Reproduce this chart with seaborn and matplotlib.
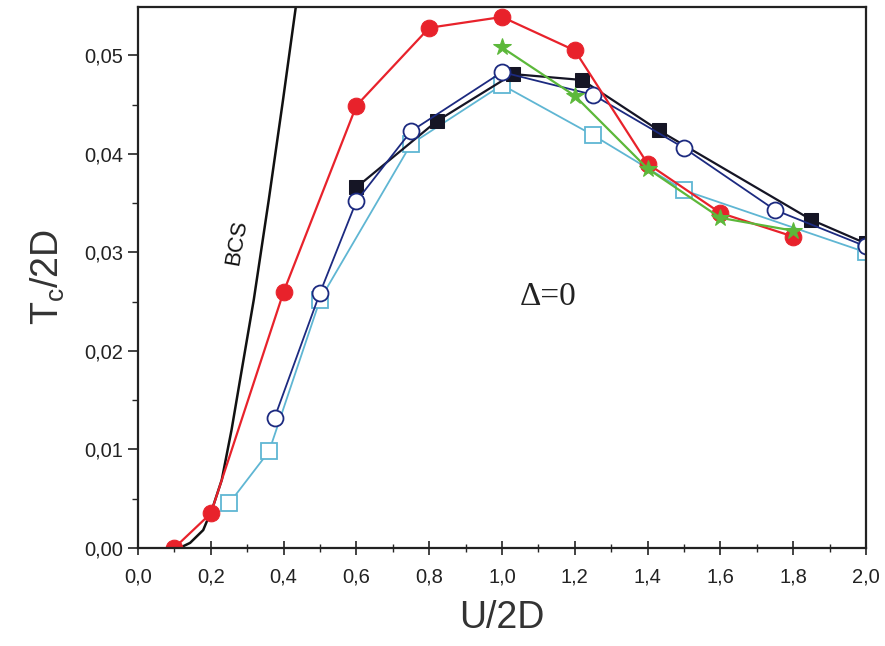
import matplotlib
matplotlib.use("Agg")
import matplotlib.pyplot as plt
import seaborn as sns
from matplotlib.ticker import MultipleLocator, FixedLocator

# ---- data ----
bcs_u = [0.10, 0.115, 0.143, 0.179, 0.206, 0.230, 0.257, 0.280, 0.318, 0.359, 0.398, 0.433, 0.437]
bcs_t = [0.0, 0.0, 0.0005, 0.0018, 0.0042, 0.0069, 0.0120, 0.0170, 0.0252, 0.0353, 0.0454, 0.0548, 0.0560]

red_u = [0.10, 0.20, 0.40, 0.60, 0.80, 1.00, 1.20, 1.40, 1.60, 1.80]
red_t = [0.0000, 0.0035, 0.0260, 0.0449, 0.0528, 0.0539, 0.0505, 0.0390, 0.0340, 0.0316]

green_u = [1.00, 1.20, 1.40, 1.60, 1.80]
green_t = [0.0508, 0.0459, 0.0385, 0.0335, 0.0322]

black_u = [0.60, 0.82, 1.03, 1.22, 1.43, 1.85, 2.00]
black_t = [0.0366, 0.0433, 0.0481, 0.0475, 0.0424, 0.0333, 0.0309]

circ_u = [0.375, 0.50, 0.60, 0.75, 1.00, 1.25, 1.50, 1.75, 2.00]
circ_t = [0.0132, 0.0259, 0.0352, 0.0423, 0.0483, 0.0460, 0.0406, 0.0343, 0.0306]

lblue_u = [0.25, 0.36, 0.50, 0.75, 1.00, 1.25, 1.50, 2.00]
lblue_t = [0.0045, 0.0098, 0.0252, 0.0410, 0.0470, 0.0419, 0.0363, 0.0300]

x_ticks = [0.0, 0.2, 0.4, 0.6, 0.8, 1.0, 1.2, 1.4, 1.6, 1.8, 2.0]
x_labels = ["0,0", "0,2", "0,4", "0,6", "0,8", "1,0", "1,2", "1,4", "1,6", "1,8", "2,0"]
y_ticks = [0.00, 0.01, 0.02, 0.03, 0.04, 0.05]
y_labels = ["0,00", "0,01", "0,02", "0,03", "0,04", "0,05"]

# ---- style ----
sns.set_style("ticks")
plt.rcParams["font.family"] = ["Liberation Sans", "DejaVu Sans"]

fig = plt.figure(figsize=(8.85, 6.46), dpi=100)
ax = fig.add_axes([0.156, 0.152, 0.8225, 0.837])

common = dict(estimator=None, sort=False, ax=ax, legend=False)

sns.lineplot(x=bcs_u, y=bcs_t, color="#111111", linewidth=1.8, **common)

sns.lineplot(x=lblue_u, y=lblue_t, color="#5fb6d3", linewidth=1.3, marker="s",
             markersize=12, markerfacecolor="white", markeredgecolor="#5fb6d3",
             markeredgewidth=1.3, **common)
sns.lineplot(x=black_u, y=black_t, color="#151525", linewidth=1.6, marker="s",
             markersize=10.5, markerfacecolor="#151525", markeredgecolor="#151525", **common)
sns.lineplot(x=circ_u, y=circ_t, color="#1c2a80", linewidth=1.3, marker="o",
             markersize=11.5, markerfacecolor="white", markeredgecolor="#1c2a80",
             markeredgewidth=1.3, **common)
sns.lineplot(x=red_u, y=red_t, color="#e8222b", linewidth=1.6, marker="o",
             markersize=12, markerfacecolor="#e8222b", markeredgecolor="#e8222b", **common)
sns.lineplot(x=green_u, y=green_t, color="#5cb83a", linewidth=1.6, marker="*",
             markersize=13, markerfacecolor="#5cb83a", markeredgecolor="#5cb83a", **common)

ax.set_xlim(0.0, 2.0)
ax.set_ylim(0.0, 0.0549)

ax.xaxis.set_major_locator(FixedLocator(x_ticks))
ax.set_xticklabels(x_labels)
ax.xaxis.set_minor_locator(MultipleLocator(0.1))
ax.yaxis.set_major_locator(FixedLocator(y_ticks))
ax.set_yticklabels(y_labels)
ax.yaxis.set_minor_locator(MultipleLocator(0.005))

ax.tick_params(axis="x", which="major", direction="inout", length=10, width=1.2,
               labelsize=14.5, colors="#222222", pad=9)
ax.tick_params(axis="x", which="minor", direction="inout", length=6, width=1.0)
ax.tick_params(axis="y", which="major", direction="out", length=7, width=1.2,
               labelsize=14.5, colors="#222222", pad=4)
ax.tick_params(axis="y", which="minor", direction="out", length=4, width=1.0)

for s in ax.spines.values():
    s.set_visible(True)
    s.set_linewidth(1.6)
    s.set_color("#222222")

ax.set_xlabel("U/2D", fontsize=27, color="#333333", labelpad=10)
ax.set_ylabel(r"T$_{\mathregular{c}}$/2D", fontsize=27, color="#333333", labelpad=12)

ax.text(0.272, 0.031, "BCS", rotation=80, fontsize=16, color="#111111",
        ha="center", va="center")
ax.text(1.126, 0.0255, "Δ=0", fontsize=24, color="#222222", ha="center", va="center",
        family=["Liberation Serif", "DejaVu Serif"])

fig.savefig("out.png", dpi=100, facecolor="white")
